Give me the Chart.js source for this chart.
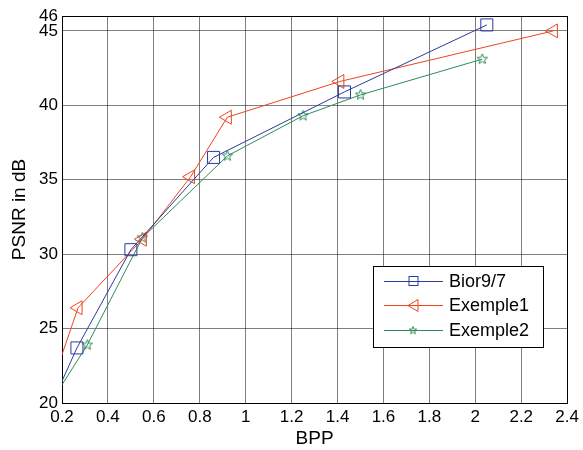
<!DOCTYPE html>
<html>
<head>
<meta charset="utf-8">
<script src="https://cdn.jsdelivr.net/npm/chart.js@4/dist/chart.umd.min.js"></script>
<style>
  html, body { margin: 0; padding: 0; background: #fff; }
</style>
</head>
<body>
<canvas id="psnrChart" width="583" height="450"></canvas>
<script>
// tick labels
const xTicks = [0.2, 0.4, 0.6, 0.8, 1, 1.2, 1.4, 1.6, 1.8, 2, 2.2, 2.4];
const yTicks = [20, 25, 30, 35, 40, 45, 46];

// series (first point of each lies left of the axis, it gets clipped)
const seriesNames = ['Bior9/7', 'Exemple1', 'Exemple2'];
const biorX = [0.125, 0.265, 0.50, 0.86, 1.43, 2.05];
const biorY = [18.9, 23.7, 30.3, 36.5, 40.9, 45.4];
const ex1X = [0.15, 0.27, 0.55, 0.76, 0.92, 1.41, 2.34];
const ex1Y = [21.0, 26.4, 31.0, 35.2, 39.2, 41.6, 45.0];
const ex2X = [0.125, 0.31, 0.55, 0.92, 1.25, 1.50, 2.03];
const ex2Y = [19.4, 23.9, 31.1, 36.6, 39.3, 40.7, 43.1];

const BLUE = '#2a3c9c';
const RED = '#ee4420';
const GREEN = '#2e8b57';
const FONT = '"Liberation Sans", Arial, sans-serif';

function toPoints(xs, ys) {
    return xs.map((x, i) => ({ x: x, y: ys[i] }));
}

// pentagram marker, matlab style
function makeStar(size, color) {
    const c = document.createElement('canvas');
    c.width = size;
    c.height = size;
    const g = c.getContext('2d');
    const cx = size / 2, cy = size / 2;
    const R = size / 2 - 1, r = R * 0.42;
    g.beginPath();
    for (let i = 0; i < 10; i++) {
        const a = -Math.PI / 2 + i * Math.PI / 5;
        const rr = i % 2 === 0 ? R : r;
        const px = cx + Math.cos(a) * rr, py = cy + Math.sin(a) * rr;
        if (i === 0) g.moveTo(px, py); else g.lineTo(px, py);
    }
    g.closePath();
    g.strokeStyle = color;
    g.lineWidth = 1;
    g.stroke();
    return c;
}

const starBig = makeStar(13, GREEN);
const starSmall = makeStar(10, GREEN);

const lineDataset = (label, data, color, style, radius, rotation) => ({
    label: label,
    data: data,
    borderColor: color,
    backgroundColor: 'rgba(0,0,0,0)',
    borderWidth: 1,
    tension: 0,
    pointStyle: style,
    pointRadius: radius,
    pointRotation: rotation,
    pointBorderColor: color,
    pointBorderWidth: 1,
    pointBackgroundColor: 'rgba(0,0,0,0)',
    clip: 0
});

// box round the plot + legend drawn inside the plot
const boxAndLegend = {
    id: 'boxAndLegend',
    beforeDatasetsDraw(chart) {
        const { ctx, chartArea: a } = chart;
        ctx.save();
        ctx.strokeStyle = '#000';
        ctx.lineWidth = 1;
        ctx.strokeRect(Math.round(a.left) + 0.5, Math.round(a.top) + 0.5,
            Math.round(a.right - a.left), Math.round(a.bottom - a.top));
        ctx.restore();
    },
    afterDatasetsDraw(chart) {
        const ctx = chart.ctx;
        const bx = 373.5, by = 266.5, bw = 170, bh = 81;
        ctx.save();
        ctx.fillStyle = '#fff';
        ctx.fillRect(bx, by, bw, bh);
        ctx.strokeStyle = '#000';
        ctx.lineWidth = 1;
        ctx.strokeRect(bx, by, bw, bh);
        const rows = [281.5, 305.5, 330.5];
        chart.data.datasets.forEach((ds, i) => {
            const y = rows[i];
            const mid = 413;
            ctx.strokeStyle = ds.borderColor;
            ctx.lineWidth = 1;
            ctx.beginPath();
            ctx.moveTo(384, y);
            ctx.lineTo(443, y);
            ctx.stroke();
            if (i === 0) {
                ctx.strokeRect(mid - 4, y - 5, 9, 9);
            } else if (i === 1) {
                ctx.beginPath();
                ctx.moveTo(mid - 5, y);
                ctx.lineTo(mid + 5, y - 6);
                ctx.lineTo(mid + 5, y + 6);
                ctx.closePath();
                ctx.stroke();
            } else {
                ctx.drawImage(starSmall, mid - 5, y - 5);
            }
            ctx.fillStyle = '#000';
            ctx.font = '18px ' + FONT;
            ctx.textBaseline = 'middle';
            ctx.textAlign = 'left';
            ctx.fillText(ds.label, 449, y + 1);
        });
        ctx.restore();
    }
};

const ctx = document.getElementById('psnrChart').getContext('2d');

const chart = new Chart(ctx, {
    type: 'line',
    data: {
        datasets: [
            lineDataset(seriesNames[0], toPoints(biorX, biorY), BLUE, 'rect', 8.5, 0),
            lineDataset(seriesNames[1], toPoints(ex1X, ex1Y), RED, 'triangle', 8, 270),
            lineDataset(seriesNames[2], toPoints(ex2X, ex2Y), GREEN, starBig, 6, 0)
        ]
    },
    options: {
        responsive: false,
        animation: false,
        layout: { padding: { top: 16, right: 15, left: 0, bottom: 0 } },
        plugins: {
            legend: { display: false },
            tooltip: { enabled: false }
        },
        scales: {
            x: {
                type: 'linear',
                min: 0.2,
                max: 2.4,
                afterBuildTicks: (scale) => {
                    scale.ticks = xTicks.map(v => ({ value: v }));
                },
                afterFit: (scale) => { scale.height = 47; },
                grid: { color: 'rgba(0,0,0,0.5)', lineWidth: 1, drawTicks: false },
                border: { color: '#000' },
                ticks: {
                    autoSkip: false,
                    maxRotation: 0,
                    padding: 4,
                    color: '#000',
                    font: { family: FONT, size: 17 },
                    callback: (v) => String(Math.round(v * 10) / 10)
                },
                title: {
                    display: true,
                    text: 'BPP',
                    color: '#000',
                    padding: 0,
                    font: { family: FONT, size: 19 }
                }
            },
            y: {
                type: 'linear',
                min: 20,
                max: 46,
                afterBuildTicks: (scale) => {
                    scale.ticks = yTicks.map(v => ({ value: v }));
                },
                afterFit: (scale) => { scale.width = 62; },
                grid: { color: 'rgba(0,0,0,0.5)', lineWidth: 1, drawTicks: false },
                border: { color: '#000' },
                ticks: {
                    autoSkip: false,
                    padding: 4,
                    color: '#000',
                    font: { family: FONT, size: 17 },
                    callback: (v) => String(v)
                },
                title: {
                    display: true,
                    text: 'PSNR in dB',
                    color: '#000',
                    padding: { top: 8, bottom: 0 },
                    font: { family: FONT, size: 19 }
                }
            }
        }
    },
    plugins: [boxAndLegend]
});
</script>
</body>
</html>
